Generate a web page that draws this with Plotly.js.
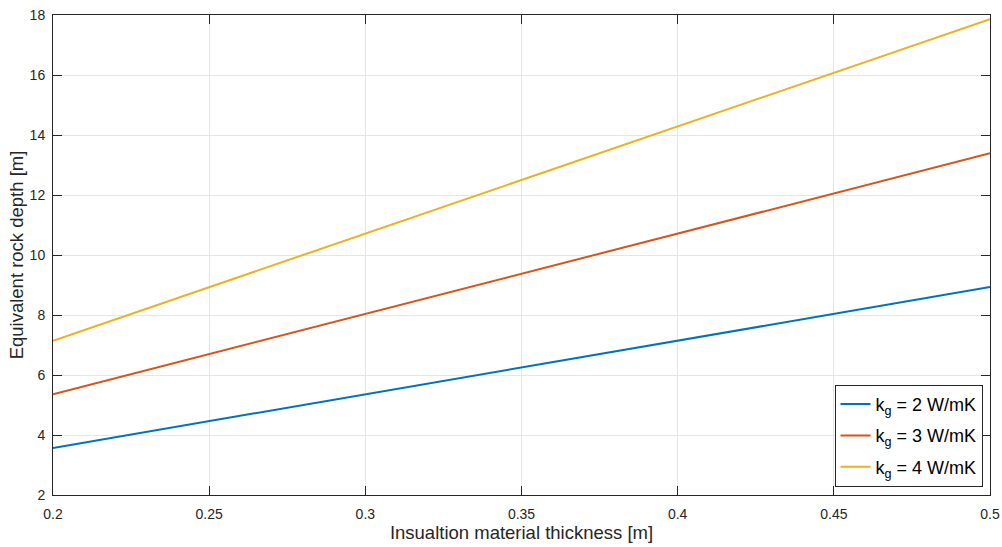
<!DOCTYPE html>
<html>
<head>
<meta charset="utf-8">
<script src="https://cdn.plot.ly/plotly-3.0.1.min.js"></script>
<style>
  html, body { margin: 0; padding: 0; background: #fff; }
  #chart { width: 1002px; height: 547px; }
</style>
</head>
<body>
<div id="chart"></div>
<script>
// Insulation thickness [m]
const thickness = [0.2, 0.25, 0.3, 0.35, 0.4, 0.45, 0.5];

// Equivalent rock depth [m] for each ground conductivity
const depthK2 = [3.57, 4.46, 5.36, 6.25, 7.14, 8.04, 8.93];
const depthK3 = [5.36, 6.70, 8.04, 9.38, 10.71, 12.05, 13.39];
const depthK4 = [7.14, 8.93, 10.71, 12.50, 14.29, 16.07, 17.86];

const seriesNames = ['k<sub>g</sub> = 2 W/mK', 'k<sub>g</sub> = 3 W/mK', 'k<sub>g</sub> = 4 W/mK'];
const seriesColors = ['#0072BD', '#D95319', '#EDB120'];

const xTicks = [0.2, 0.25, 0.3, 0.35, 0.4, 0.45, 0.5];
const xTickText = ['0.2', '0.25', '0.3', '0.35', '0.4', '0.45', '0.5'];
const yTicks = [2, 4, 6, 8, 10, 12, 14, 16, 18];

const FONT = 'Liberation Sans, Arial, sans-serif';

// one legend group per series so the legend rows get a little extra spacing
const traces = [depthK2, depthK3, depthK4].map((ys, i) => ({
  x: thickness,
  y: ys,
  type: 'scatter',
  mode: 'lines',
  name: seriesNames[i],
  legendgroup: 'k' + i,
  line: { color: seriesColors[i], width: 2 }
}));

const axisCommon = {
  showline: true,
  linecolor: '#262626',
  linewidth: 1,
  mirror: 'ticks',
  ticks: 'inside',
  ticklen: 9,
  tickcolor: '#262626',
  showgrid: true,
  gridcolor: '#e6e6e6',
  gridwidth: 1,
  zeroline: false,
  tickfont: { family: FONT, size: 14, color: '#262626' }
};

const layout = {
  width: 1002,
  height: 547,
  margin: { l: 53, r: 12, t: 15, b: 52 },
  paper_bgcolor: '#ffffff',
  plot_bgcolor: '#ffffff',
  showlegend: true,
  xaxis: Object.assign({}, axisCommon, {
    range: [0.2, 0.5],
    tickvals: xTicks,
    ticktext: xTickText,
    ticklabelstandoff: 6,
    title: { text: 'Insualtion material thickness [m]', font: { family: FONT, size: 18.5, color: '#262626' }, standoff: 4 }
  }),
  yaxis: Object.assign({}, axisCommon, {
    range: [2, 18],
    tickvals: yTicks,
    ticklabelstandoff: 4,
    title: { text: 'Equivalent rock depth [m]', font: { family: FONT, size: 18.5, color: '#262626' }, standoff: 1 }
  }),
  legend: {
    x: 0.992,
    y: 0.017,
    xanchor: 'right',
    yanchor: 'bottom',
    bgcolor: '#ffffff',
    bordercolor: '#262626',
    borderwidth: 1,
    font: { family: FONT, size: 18, color: '#000000' },
    tracegroupgap: 5
  }
};

Plotly.newPlot('chart', traces, layout, { displayModeBar: false, staticPlot: true });
</script>
</body>
</html>
